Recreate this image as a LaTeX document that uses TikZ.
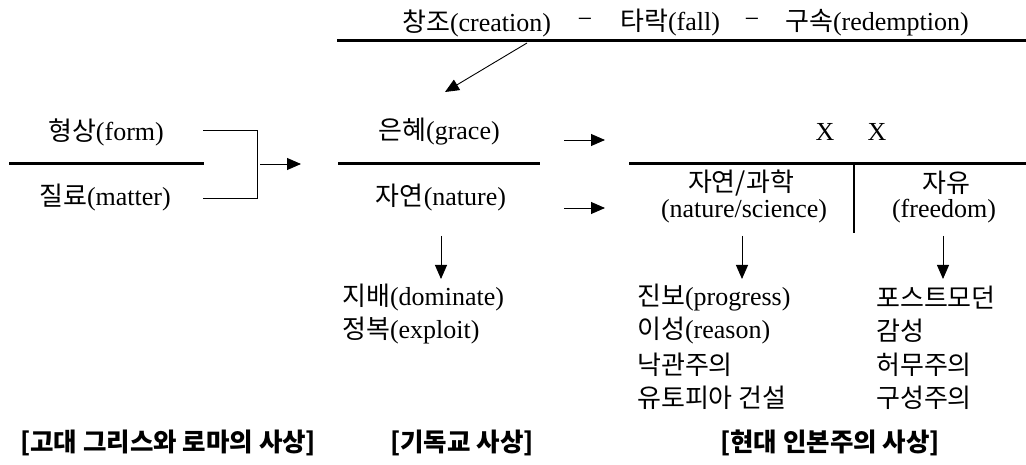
\documentclass[tikz,border=0pt]{standalone}
\usepackage{fontspec}
\setmainfont{Liberation Serif}
\newfontfamily\krfont{Noto Sans CJK KR}
\newcommand\kr[1]{{\krfont #1}}
\usetikzlibrary{arrows.meta}
\begin{document}
\begin{tikzpicture}[x=1pt,y=-1pt,
  txt/.style={inner sep=0pt,font=\fontsize{26}{30}\selectfont},
  lst/.style={txt,anchor=west},
  ttl/.style={inner sep=0pt,font=\krfont\bfseries\fontsize{25.5}{28}\selectfont},
  thick line/.style={line width=3pt},
  thin line/.style={line width=0.9pt},
  arr/.style={thin line,-{Triangle[length=14pt,width=12pt]}}]
\useasboundingbox (0,0) rectangle (1026,465);
% top
\node[lst] (cre) at (402,23) {\kr{창조}(creation)};
\node[txt] (dash1) at (585,23) {−};
\node[lst] (fal) at (620,23) {\kr{타락}(fall)};
\node[txt] (dash2) at (752,23) {−};
\node[lst] (red) at (785,23) {\kr{구속}(redemption)};
\coordinate (tl1) at (337,41);
\coordinate (tl2) at (1026,41);
\draw[thick line] (tl1) -- (tl2);
\coordinate (ta) at (527,43);
\coordinate (tb) at (445,92);
\draw[arr] (ta) -- (tb);
% left
\node[txt] (form) at (106,132) {\kr{형상}(form)};
\node[txt] (matter) at (105,198) {\kr{질료}(matter)};
\coordinate (l1) at (9,164);
\coordinate (l2) at (204,164);
\draw[thick line] (l1) -- (l2);
\coordinate (b1) at (203,130);
\coordinate (b2) at (257,130);
\coordinate (b3) at (257,198);
\coordinate (b4) at (203,198);
\draw[thin line] (b1) -- (b2) -- (b3) -- (b4);
\coordinate (ba) at (260,164);
\coordinate (bb) at (301,164);
\draw[arr] (ba) -- (bb);
% middle
\node[txt] (grace) at (439,132) {\kr{은혜}(grace)};
\node[txt] (nature) at (441,198) {\kr{자연}(nature)};
\coordinate (m1) at (338,164);
\coordinate (m2) at (540,164);
\draw[thick line] (m1) -- (m2);
\coordinate (ga) at (564,140);
\coordinate (gb) at (605,140);
\draw[arr] (ga) -- (gb);
\coordinate (na) at (564,208);
\coordinate (nb) at (605,208);
\draw[arr] (na) -- (nb);
% right
\node[txt] (x1) at (825,132) {X};
\node[txt] (x2) at (877,132) {X};
\coordinate (r1) at (629,164);
\coordinate (r2) at (1026,164);
\draw[thick line] (r1) -- (r2);
\coordinate (v1) at (854,164);
\coordinate (v2) at (854,233);
\draw[line width=2.6pt] (v1) -- (v2);
\node[txt] (ns1) at (741,183) {\kr{자연/과학}};
\node[txt] (ns2) at (744,211) {(nature/science)};
\node[txt] (fr1) at (946,183) {\kr{자유}};
\node[txt] (fr2) at (944,211) {(freedom)};
% down arrows
\coordinate (d1a) at (441,236);
\coordinate (d1b) at (441,279);
\draw[arr] (d1a) -- (d1b);
\coordinate (d2a) at (742,236);
\coordinate (d2b) at (742,279);
\draw[arr] (d2a) -- (d2b);
\coordinate (d3a) at (943,236);
\coordinate (d3b) at (943,279);
\draw[arr] (d3a) -- (d3b);
% lists
\node[lst] (dom) at (342,298) {\kr{지배}(dominate)};
\node[lst] (exp) at (342,331) {\kr{정복}(exploit)};
\node[lst] (pro) at (637,298) {\kr{진보}(progress)};
\node[lst] (rea) at (637,331) {\kr{이성}(reason)};
\node[lst] (opt) at (637,365) {\kr{낙관주의}};
\node[lst] (uto) at (637,398) {\kr{유토피아 건설}};
\node[lst] (pm) at (876,298) {\kr{포스트모던}};
\node[lst] (emo) at (876,331) {\kr{감성}};
\node[lst] (nih) at (876,365) {\kr{허무주의}};
\node[lst] (con) at (876,398) {\kr{구성주의}};
% titles
\node[ttl,anchor=west] (t1) at (20,443) {[고대 그리스와 로마의 사상]};
\node[ttl,anchor=west] (t2) at (390,443) {[기독교 사상]};
\node[ttl,anchor=west] (t3) at (720,443) {[현대 인본주의 사상]};
\end{tikzpicture}
\end{document}
